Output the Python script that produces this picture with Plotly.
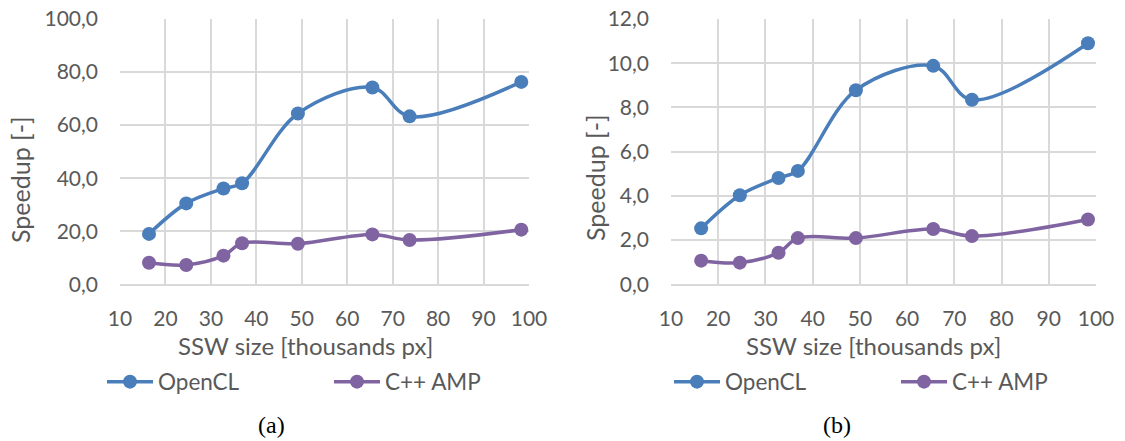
import plotly.graph_objects as go

# ---- data ----
ssw_size = [16.384, 24.576, 32.768, 36.864, 49.152, 65.536, 73.728, 98.304]
a_opencl = [19.0, 30.5, 36.1, 38.1, 64.4, 74.2, 63.3, 76.3]
a_cppamp = [8.1, 7.3, 10.8, 15.5, 15.3, 18.8, 16.7, 20.6]
b_opencl = [2.53, 4.03, 4.81, 5.13, 8.78, 9.88, 8.35, 10.9]
b_cppamp = [1.07, 0.98, 1.43, 2.09, 2.09, 2.50, 2.18, 2.93]
x_ticks = [10, 20, 30, 40, 50, 60, 70, 80, 90, 100]
a_yticks = [0, 20, 40, 60, 80, 100]
b_yticks = [0, 2, 4, 6, 8, 10, 12]
series_names = ["OpenCL", "C++ AMP"]
captions = ["(a)", "(b)"]
x_title = "SSW size [thousands px]"
y_title = "Speedup [-]"

BLUE = "#4A7EBB"
PURPLE = "#8064A2"
GRID = "#D9D9D9"
TXT = "#595959"
FONT = "Lato"
W, H = 1125, 441

fig = go.Figure()

def add_series(xa, ya, vals, name, color, legend):
    fig.add_trace(go.Scatter(
        x=ssw_size, y=vals, name=name, mode="lines+markers",
        line=dict(color=color, width=3.5, shape="spline", smoothing=1.0),
        marker=dict(color=color, size=14),
        xaxis=xa, yaxis=ya, legend=legend,
    ))

add_series("x", "y", a_opencl, series_names[0], BLUE, "legend")
add_series("x", "y", a_cppamp, series_names[1], PURPLE, "legend")
add_series("x2", "y2", b_opencl, series_names[0], BLUE, "legend2")
add_series("x2", "y2", b_cppamp, series_names[1], PURPLE, "legend2")

ydom = [(H - 284.3) / H, (H - 19) / H]
xdom1 = [120 / W, 529 / W]
xdom2 = [671 / W, 1096 / W]

xcommon = dict(range=[10, 100], tickvals=x_ticks, showgrid=True, gridcolor=GRID,
               gridwidth=2, zeroline=False, showline=True, linecolor=GRID, linewidth=2,
               ticks="", ticklabelstandoff=14,
               tickfont=dict(family=FONT, size=21, color=TXT), fixedrange=True)
ycommon = dict(showgrid=True, gridcolor=GRID, gridwidth=2, zeroline=False,
               showline=False, ticks="", tickformat=".1f", ticklabelstandoff=21,
               tickfont=dict(family=FONT, size=21, color=TXT), fixedrange=True)

legcommon = dict(orientation="h", font=dict(family=FONT, size=22.5, color=TXT),
                 bgcolor="rgba(0,0,0,0)", yanchor="middle", xanchor="left",
                 entrywidth=166, entrywidthmode="pixels", itemwidth=46,
                 itemclick=False, itemdoubleclick=False, tracegroupgap=0)

fig.update_layout(
    width=W, height=H, margin=dict(l=0, r=0, t=0, b=0, autoexpand=False),
    paper_bgcolor="white", plot_bgcolor="white",
    separators=",.",
    showlegend=True,
    xaxis=dict(domain=xdom1, anchor="y", **xcommon),
    yaxis=dict(domain=ydom, anchor="x", range=[0, 100], tickvals=a_yticks, **ycommon),
    xaxis2=dict(domain=xdom2, anchor="y2", **xcommon),
    yaxis2=dict(domain=ydom, anchor="x2", range=[0, 12], tickvals=b_yticks, **ycommon),
    legend=dict(x=102 / W, y=(H - 382) / H, **legcommon),
    legend2=dict(x=669 / W, y=(H - 382) / H, **legcommon),
)

ann = []
for cx, txt in [(305 / W, x_title), (873 / W, x_title)]:
    ann.append(dict(text=txt, x=cx, y=(H - 345) / H, xref="paper", yref="paper",
                    showarrow=False, xanchor="center", yanchor="middle",
                    font=dict(family=FONT, size=24, color=TXT)))
for cx, cy in [(20 / W, (H - 180) / H), (595 / W, (H - 178) / H)]:
    ann.append(dict(text=y_title, x=cx, y=cy, xref="paper", yref="paper",
                    showarrow=False, xanchor="center", yanchor="middle", textangle=-90,
                    font=dict(family=FONT, size=25, color=TXT)))
for cx, txt in [(271 / W, captions[0]), (837 / W, captions[1])]:
    ann.append(dict(text=txt, x=cx, y=(H - 425) / H, xref="paper", yref="paper",
                    showarrow=False, xanchor="center", yanchor="middle",
                    font=dict(family="Liberation Serif", size=24, color="black")))
fig.update_layout(annotations=ann)

fig.write_html("out.html", config={"displayModeBar": False},
               post_script="document.body.style.margin='0';")
